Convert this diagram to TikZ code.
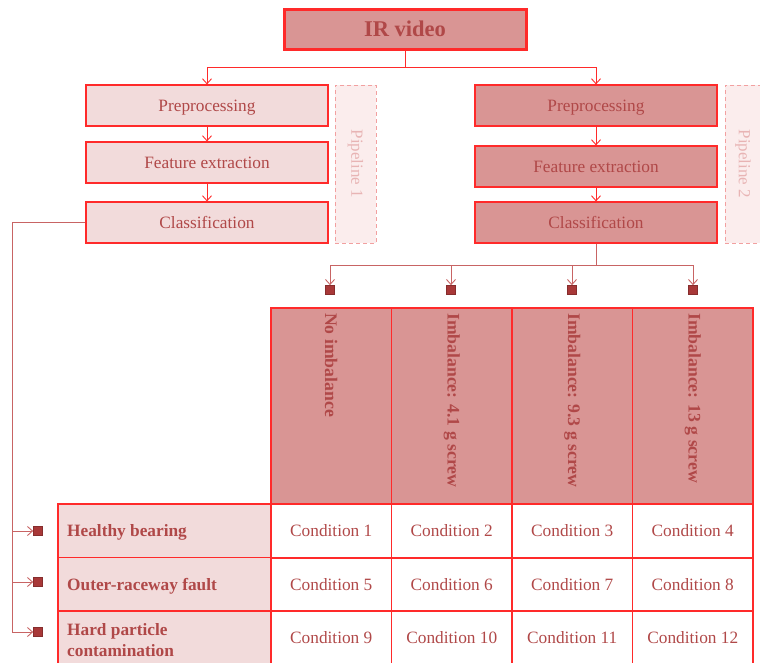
\documentclass[tikz,border=0pt]{standalone}
\usepackage{fontspec}
\setmainfont{Liberation Serif}
\usetikzlibrary{arrows.meta}
\definecolor{txt}{HTML}{B04848}
\definecolor{dfill}{HTML}{D99594}
\definecolor{lfill}{HTML}{F2DBDB}
\definecolor{bred}{HTML}{FF2A2A}
\definecolor{mline}{HTML}{C86464}
\definecolor{sq}{HTML}{A83838}
\definecolor{pipefill}{HTML}{FBEDED}
\definecolor{pipeln}{HTML}{F2A0A0}
\definecolor{pipetxt}{HTML}{E8B4B4}
\tikzset{
  box/.style={draw=bred, line width=1.2pt, minimum width=242pt, minimum height=41pt, inner sep=0pt, text height=11.5pt, text depth=0pt, text=txt, font=\fontsize{17.3}{20}\selectfont},
  lbox/.style={box, fill=lfill},
  dbox/.style={box, fill=dfill},
  pipe/.style={draw=pipeln, dash pattern=on 4pt off 3pt, fill=pipefill, line width=1pt, minimum width=41pt, minimum height=158pt, inner sep=0pt},
  pipetext/.style={text=pipetxt, font=\fontsize{17}{20}\selectfont, rotate=-90},
  arr/.style={draw=bred, line width=0.9pt, -{Straight Barb[length=5pt,width=9pt]}},
  marr/.style={draw=mline, line width=0.9pt, -{Straight Barb[length=5pt,width=9pt]}},
  sqr/.style={draw=sq!80!black, fill=sq, minimum size=8.5pt, inner sep=0pt, line width=1.2pt},
  cell/.style={draw=bred, line width=1.2pt, minimum width=120.5pt, minimum height=54pt, inner sep=0pt, text height=11.5pt, text depth=0pt, text=txt, font=\fontsize{17.3}{20}\selectfont},
  head/.style={cell, fill=dfill, minimum height=196pt},
  headtext/.style={text=txt, font=\bfseries\fontsize{17.7}{20}\selectfont, rotate=-90, anchor=west, inner sep=0pt},
  rowlab/.style={cell, fill=lfill, minimum width=213pt},
  rowtext/.style={text=txt, font=\bfseries\fontsize{17.3}{21}\selectfont, anchor=west, align=left, inner sep=0pt},
}
\begin{document}
\begin{tikzpicture}[x=1pt,y=-1pt]
\useasboundingbox (0,0) rectangle (760,662);
% top
\node[draw=bred, line width=3pt, fill=dfill, minimum width=242pt, minimum height=40pt, inner sep=0pt, text height=14.5pt, text depth=0pt, text=txt, font=\bfseries\fontsize{22.5}{26}\selectfont] (ir) at (405,29) {IR video};
% pipeline 1
\node[lbox] (pp1) at (207,105.5) {Preprocessing};
\node[lbox] (fe1) at (207,162.5) {Feature extraction};
\node[lbox] (cl1) at (207,222.5) {Classification};
\node[pipe] (pl1) at (355.5,164) {};
\node[pipetext] (pl1t) at (pl1.center) {Pipeline 1};
% pipeline 2
\node[dbox] (pp2) at (596,105.5) {Preprocessing};
\node[dbox] (fe2) at (596,166.5) {Feature extraction};
\node[dbox] (cl2) at (596,222.5) {Classification};
\node[pipe] (pl2) at (745.5,164) {};
\node[pipetext] (pl2t) at (743,164) {Pipeline 2};
% connectors top
\draw[arr] (ir.south) -- ++(0,17) -| (pp1.north);
\draw[arr] (ir.south) -- ++(0,17) -| (pp2.north);
\draw[arr] (pp1) -- (fe1);
\draw[arr] (fe1) -- (cl1);
\draw[arr] (pp2) -- (fe2);
\draw[arr] (fe2) -- (cl2);
% table header
\node[head] (h1) at (331.25,406) {};
\node[head] (h2) at (451.75,406) {};
\node[head] (h3) at (572.25,406) {};
\node[head] (h4) at (692.75,406) {};
\node[headtext] (h1t) at (331.25,313) {No imbalance};
\node[headtext] (h2t) at (451.75,313) {Imbalance: 4.1 g screw};
\node[headtext] (h3t) at (572.25,313) {Imbalance: 9.3 g screw};
\node[headtext] (h4t) at (692.75,313) {Imbalance: 13 g screw};
% rows
\node[rowlab] (r1) at (164.5,531) {};
\node[rowlab] (r2) at (164.5,584.5) {};
\node[rowlab] (r3) at (164.5,638) {};
\node[rowtext] (r1t) at (67,532) {Healthy bearing};
\node[rowtext] (r2t) at (67,586) {Outer-raceway fault};
\node[rowtext] (r3t) at (67,640) {Hard particle\\contamination};
\node[cell] (c1) at (331.25,531) {Condition 1};
\node[cell] (c2) at (451.75,531) {Condition 2};
\node[cell] (c3) at (572.25,531) {Condition 3};
\node[cell] (c4) at (692.75,531) {Condition 4};
\node[cell] (c5) at (331.25,584.5) {Condition 5};
\node[cell] (c6) at (451.75,584.5) {Condition 6};
\node[cell] (c7) at (572.25,584.5) {Condition 7};
\node[cell] (c8) at (692.75,584.5) {Condition 8};
\node[cell] (c9) at (331.25,638) {Condition 9};
\node[cell] (c10) at (451.75,638) {Condition 10};
\node[cell] (c11) at (572.25,638) {Condition 11};
\node[cell] (c12) at (692.75,638) {Condition 12};
% squares for columns
\node[sqr] (s1) at (330,290) {};
\node[sqr] (s2) at (451,290) {};
\node[sqr] (s3) at (572,290) {};
\node[sqr] (s4) at (693,290) {};
\draw[marr] (cl2.south) -- ++(0,22) -| (s1.north);
\draw[marr] (cl2.south) -- ++(0,22) -| (s2.north);
\draw[marr] (cl2.south) -- ++(0,22) -| (s3.north);
\draw[marr] (cl2.south) -- ++(0,22) -| (s4.north);
% squares for rows
\node[sqr] (t1) at (38,531) {};
\node[sqr] (t2) at (38,582) {};
\node[sqr] (t3) at (38,632) {};
\coordinate (lc) at (12,222.5);
\draw[marr] (cl1.west) -- (lc) |- (t1.west);
\draw[marr] (cl1.west) -- (lc) |- (t2.west);
\draw[marr] (cl1.west) -- (lc) |- (t3.west);
\end{tikzpicture}
\end{document}
